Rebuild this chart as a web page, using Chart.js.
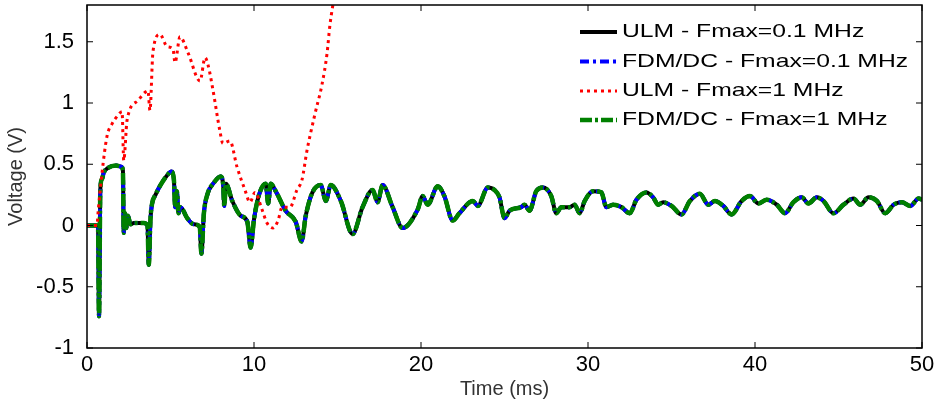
<!DOCTYPE html>
<html>
<head>
<meta charset="utf-8">
<script src="https://cdn.jsdelivr.net/npm/chart.js@4.4.1/dist/chart.umd.min.js"></script>
<style>
  body { margin: 0; background: #fff; }
  #wrap { width: 936px; height: 410px; }
</style>
</head>
<body>
<div id="wrap"><canvas id="myChart" width="936" height="410"></canvas></div>
<script>
// time axis (ms) and voltages
const timeLow = [0, 0.66, 0.72, 0.8, 0.9, 1.0, 1.26, 1.74, 2.05, 2.15, 2.2, 2.27, 2.35, 2.45, 2.6, 2.8, 3.4, 3.62, 3.7, 3.8,
  3.9, 4.1, 4.4, 4.8, 5.05, 5.2, 5.28, 5.38, 5.48, 5.6, 6.0, 6.4, 6.75, 6.85, 7.0, 7.2, 7.6, 8.0, 8.15, 8.22,
  8.32, 8.7, 9.2, 9.6, 9.8, 10.0, 10.3, 10.7, 10.85, 11.0, 11.3, 11.9, 12.5, 12.85, 13.1, 13.5, 14.0, 14.3, 14.6, 15.2,
  15.9, 16.5, 17.1, 17.4, 17.7, 18.3, 18.9, 19.8, 20.1, 20.4, 21.0, 21.4, 21.9, 22.3, 23.1, 23.4, 24.0, 24.4, 24.7, 25.0,
  25.3, 26.0, 26.2, 26.5, 26.9, 27.3, 27.8, 28.1, 28.4, 28.9, 29.2, 29.5, 29.8, 30.3, 30.8, 31.1, 31.5, 32.0, 32.5, 32.9,
  33.5, 33.9, 34.2, 34.5, 35.0, 35.6, 36.1, 36.7, 37.2, 37.6, 38.1, 38.6, 39.2, 39.7, 40.2, 40.7, 41.3, 41.8, 42.3, 42.8,
  43.2, 43.7, 44.1, 44.7, 45.3, 45.9, 46.3, 46.8, 47.3, 47.8, 48.3, 48.8, 49.3, 49.8, 50];
const voltLow = [0, 0, -0.74, 0.3, 0.38, 0.43, 0.47, 0.49, 0.48, 0.45, -0.06, 0.1, -0.02, 0.08, 0.01, 0.02, 0.02, 0.0, -0.32, 0.05,
  0.18, 0.25, 0.33, 0.41, 0.44, 0.38, 0.15, 0.28, 0.1, 0.15, 0.06, 0.01, -0.01, -0.23, 0.1, 0.25, 0.35, 0.4, 0.34, 0.16,
  0.34, 0.2, 0.08, 0.03, -0.18, 0.05, 0.25, 0.34, 0.18, 0.34, 0.28, 0.12, 0.03, -0.13, 0.08, 0.27, 0.33, 0.2, 0.33, 0.2,
  -0.07, 0.15, 0.29, 0.19, 0.33, 0.15, -0.02, 0.13, 0.24, 0.17, 0.32, 0.24, 0.04, 0.10, 0.20, 0.16, 0.31, 0.29, 0.23, 0.06,
  0.12, 0.15, 0.17, 0.12, 0.28, 0.31, 0.24, 0.10, 0.15, 0.15, 0.17, 0.10, 0.20, 0.28, 0.27, 0.15, 0.17, 0.15, 0.10, 0.21,
  0.27, 0.23, 0.17, 0.19, 0.16, 0.09, 0.20, 0.26, 0.17, 0.20, 0.16, 0.09, 0.20, 0.24, 0.18, 0.21, 0.17, 0.10, 0.19, 0.23,
  0.18, 0.23, 0.20, 0.10, 0.17, 0.22, 0.17, 0.23, 0.20, 0.10, 0.17, 0.19, 0.16, 0.22, 0.21];
// FDM/DC curves lie on top of the ULM 0.1 MHz one
const voltFdmLow = voltLow;
const voltFdmHigh = voltLow;

const timeUlmHigh = [0, 0.6, 0.66, 0.9, 1.2, 1.5, 1.86, 2.1, 2.2, 2.4, 3.05, 3.5, 3.65, 3.77, 3.95, 4.37, 4.8, 5.15, 5.27, 5.57,
  6.05, 6.77, 7.07, 7.25, 7.55, 7.96, 8.14, 8.56, 8.98, 9.46, 9.76, 10.06, 10.48, 10.78, 11.14, 11.44, 11.68, 12.16, 12.57, 12.87,
  13.17, 13.65, 14.07, 14.37, 14.55, 14.85, 15.1];
const voltUlmHigh = [0, 0, 0.1, 0.43, 0.73, 0.83, 0.9, 0.93, 0.53, 0.86, 1.02, 1.09, 1.1, 0.94, 1.42, 1.56, 1.46, 1.44, 1.33, 1.54,
  1.41, 1.18, 1.37, 1.31, 1.1, 0.77, 0.67, 0.69, 0.48, 0.29, 0.19, 0.27, 0.13, 0.02, -0.02, 0.04, 0.15, 0.15, 0.29, 0.37,
  0.61, 0.91, 1.15, 1.40, 1.64, 1.9, 2.1];

const seriesNames = ['ULM - Fmax=0.1 MHz', 'FDM/DC - Fmax=0.1 MHz', 'ULM - Fmax=1 MHz', 'FDM/DC - Fmax=1 MHz'];
const xTicks = [0, 10, 20, 30, 40, 50];
const yTicks = [-1, -0.5, 0, 0.5, 1, 1.5];

const fontFam = '"Liberation Sans", Arial, sans-serif';

function pts(xs, ys) {
    return xs.map((x, i) => ({ x: x, y: ys[i] }));
}

// MATLAB style box with inward ticks
const boxPlugin = {
    id: 'boxPlugin',
    afterDatasetsDraw(chart) {
        const ctx = chart.ctx;
        const a = chart.chartArea;
        const xs = chart.scales.x;
        const ys = chart.scales.y;
        ctx.save();
        ctx.strokeStyle = '#000';
        ctx.lineWidth = 1.5;
        ctx.strokeRect(a.left, a.top, a.right - a.left, a.bottom - a.top);
        ctx.lineWidth = 1;
        ctx.beginPath();
        xTicks.forEach(v => {
            const px = xs.getPixelForValue(v);
            ctx.moveTo(px, a.bottom); ctx.lineTo(px, a.bottom - 6);
            ctx.moveTo(px, a.top); ctx.lineTo(px, a.top + 6);
        });
        yTicks.forEach(v => {
            const py = ys.getPixelForValue(v);
            ctx.moveTo(a.left, py); ctx.lineTo(a.left + 6, py);
            ctx.moveTo(a.right, py); ctx.lineTo(a.right - 6, py);
        });
        ctx.stroke();
        ctx.restore();
    }
};

// legend in the top right corner, inside the axes (text is a bit stretched like the figure)
const legendPlugin = {
    id: 'legendPlugin',
    afterDraw(chart) {
        const ctx = chart.ctx;
        const rows = [32, 61.5, 91, 120];
        ctx.save();
        chart.data.datasets.forEach((ds, i) => {
            const y = rows[i];
            ctx.strokeStyle = ds.borderColor;
            ctx.lineWidth = ds.borderWidth;
            ctx.setLineDash(ds.borderDash || []);
            ctx.beginPath();
            ctx.moveTo(580, y);
            ctx.lineTo(617, y);
            ctx.stroke();
            ctx.setLineDash([]);
            ctx.save();
            ctx.translate(622, y);
            ctx.scale(1.3, 1);
            ctx.font = '19px ' + fontFam;
            ctx.textBaseline = 'middle';
            ctx.fillStyle = '#000';
            ctx.fillText(ds.label, 0, 0);
            ctx.restore();
        });
        ctx.restore();
    }
};

const ctx = document.getElementById('myChart').getContext('2d');
const chart = new Chart(ctx, {
    type: 'line',
    data: {
        datasets: [
            {
                label: seriesNames[0],
                data: pts(timeLow, voltLow),
                borderColor: '#000000',
                borderWidth: 4,
                order: 3
            },
            {
                label: seriesNames[1],
                data: pts(timeLow, voltFdmLow),
                borderColor: '#0000ff',
                borderWidth: 4,
                borderDash: [9, 4, 3, 4],
                order: 2
            },
            {
                label: seriesNames[2],
                data: pts(timeUlmHigh, voltUlmHigh),
                borderColor: '#ff0000',
                borderWidth: 3,
                borderDash: [3, 4],
                order: 0
            },
            {
                label: seriesNames[3],
                data: pts(timeLow, voltFdmHigh),
                borderColor: '#008000',
                borderWidth: 4.5,
                borderDash: [12, 3, 3, 3],
                order: 1
            }
        ]
    },
    options: {
        responsive: false,
        animation: false,
        parsing: false,
        layout: { padding: { top: 5, right: 14, bottom: 0, left: 0 } },
        elements: {
            point: { radius: 0 },
            line: { cubicInterpolationMode: 'monotone', fill: false }
        },
        scales: {
            x: {
                type: 'linear',
                min: 0,
                max: 50,
                grid: { display: false },
                border: { display: false },
                afterBuildTicks: (scale) => { scale.ticks = xTicks.map(v => ({ value: v })); },
                afterFit: (scale) => {
                    scale.height = 62;
                    scale.paddingLeft = 0;
                    scale.paddingRight = 0;
                },
                ticks: {
                    color: '#000',
                    padding: -4,
                    maxRotation: 0,
                    callback: (v) => String(v),
                    font: { family: fontFam, size: 22 }
                },
                title: {
                    display: true,
                    text: 'Time (ms)',
                    color: '#333',
                    padding: { top: 0, bottom: 9 },
                    font: { family: fontFam, size: 20 }
                }
            },
            y: {
                min: -1,
                max: 1.8,
                grid: { display: false },
                border: { display: false },
                afterBuildTicks: (scale) => { scale.ticks = yTicks.map(v => ({ value: v })); },
                afterFit: (scale) => {
                    scale.width = 87;
                    scale.paddingTop = 0;
                    scale.paddingBottom = 0;
                },
                ticks: {
                    color: '#000',
                    padding: 5,
                    callback: (v) => String(v),
                    font: { family: fontFam, size: 22 }
                },
                title: {
                    display: true,
                    text: 'Voltage (V)',
                    color: '#333',
                    padding: { top: 4, bottom: 0 },
                    font: { family: fontFam, size: 20 }
                }
            }
        },
        plugins: {
            legend: { display: false },
            tooltip: { enabled: false }
        }
    },
    plugins: [boxPlugin, legendPlugin]
});
</script>
</body>
</html>
